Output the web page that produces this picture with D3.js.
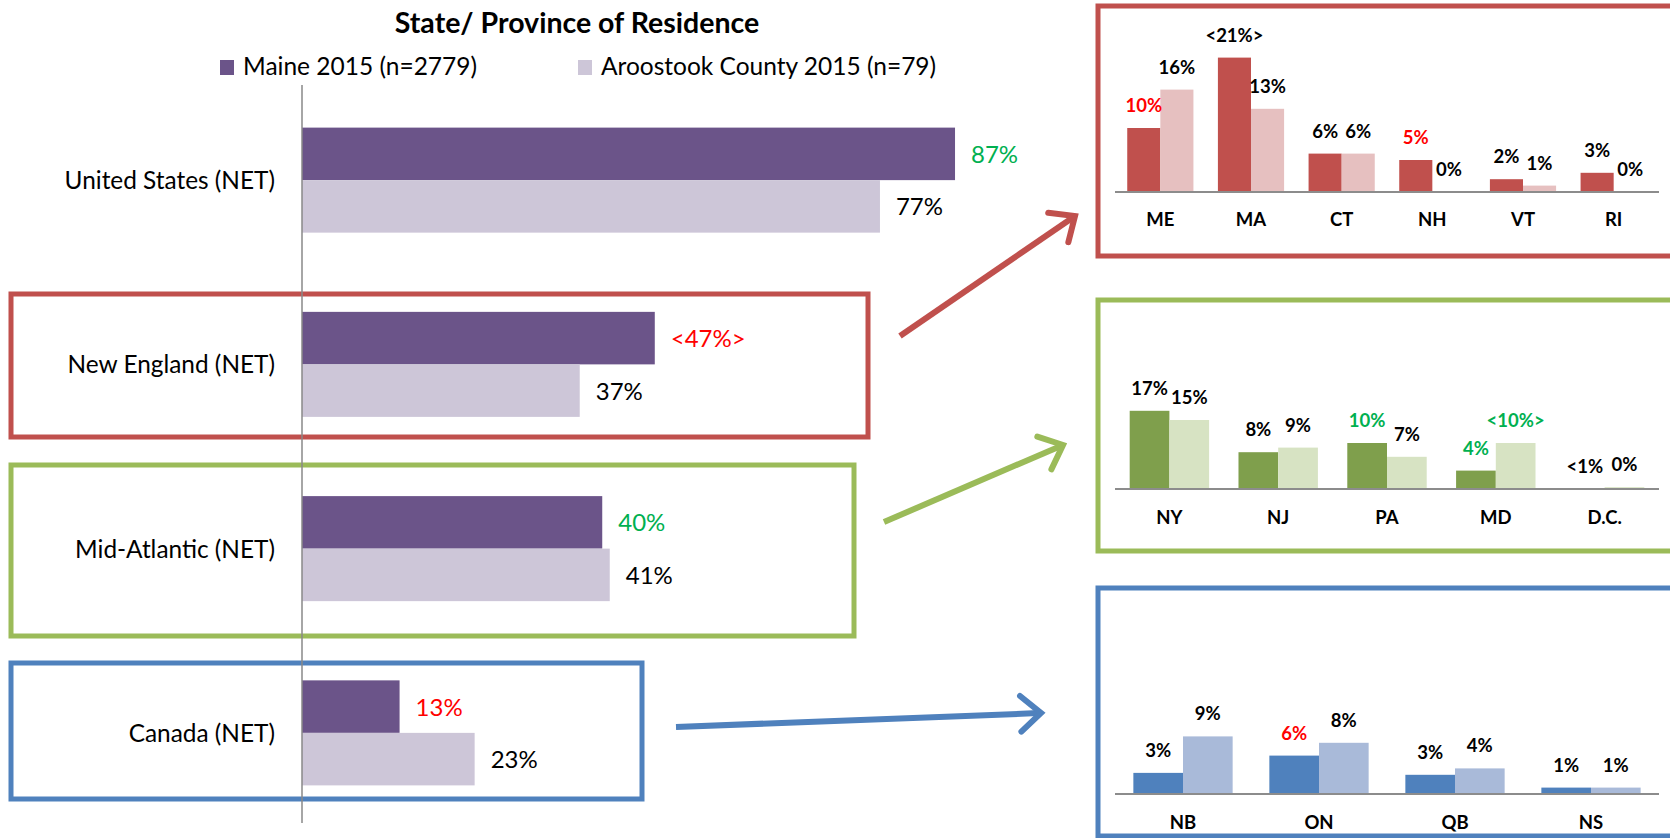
<!DOCTYPE html>
<html>
<head>
<meta charset="utf-8">
<script src="https://cdn.jsdelivr.net/npm/d3@7"></script>
<style>
  html, body { margin: 0; padding: 0; background: #fff; }
  svg { display: block; }
  text { font-family: Lato, "Open Sans", "Liberation Sans", sans-serif; }
</style>
</head>
<body>
<svg id="chart" width="1670" height="838"></svg>
<script>
// ---------------- DATA ----------------
const seriesNames = ["Maine 2015 (n=2779)", "Aroostook County 2015 (n=79)"];

const mainCats = ["United States (NET)", "New England (NET)", "Mid-Atlantic (NET)", "Canada (NET)"];
const mainMaine = [87, 47, 40, 13];
const mainAroo = [77, 37, 41, 23];
const mainMaineLabels = ["87%", "<47%>", "40%", "13%"];
const mainArooLabels = ["77%", "37%", "41%", "23%"];
const mainMaineSig = ["up", "down", "up", "down"];
const mainArooSig = ["", "", "", ""];

const neCats = ["ME", "MA", "CT", "NH", "VT", "RI"];
const neMaine = [10, 21, 6, 5, 2, 3];
const neAroo = [16, 13, 6, 0, 1, 0];
const neMaineLabels = ["10%", "<21%>", "6%", "5%", "2%", "3%"];
const neArooLabels = ["16%", "13%", "6%", "0%", "1%", "0%"];
const neMaineSig = ["down", "", "", "down", "", ""];
const neArooSig = ["", "", "", "", "", ""];

const maCats = ["NY", "NJ", "PA", "MD", "D.C."];
const maMaine = [17, 8, 10, 4, 0];
const maAroo = [15, 9, 7, 10, 0.4];
const maMaineLabels = ["17%", "8%", "10%", "4%", "<1%"];
const maArooLabels = ["15%", "9%", "7%", "<10%>", "0%"];
const maMaineSig = ["", "", "up", "up", ""];
const maArooSig = ["", "", "", "up", ""];

const caCats = ["NB", "ON", "QB", "NS"];
const caMaine = [3.3, 6, 3, 1];
const caAroo = [9, 8, 4, 1];
const caMaineLabels = ["3%", "6%", "3%", "1%"];
const caArooLabels = ["9%", "8%", "4%", "1%"];
const caMaineSig = ["", "down", "", ""];
const caArooSig = ["", "", "", ""];

// ---------------- STYLE ----------------
const sigColor = { up: "#00B050", down: "#FF0000", "": "#000000" };
const purple = "#6B5489", lilac = "#CDC6D8";
const red = "#C0504D", redLight = "#E6C0C0";
const green = "#9BBB59", greenDark = "#7F9F4C", greenLight = "#D7E3C3";
const blue = "#4F81BD", blueLight = "#A9BAD9";
const axisGray = "#8C8C8C";

const svg = d3.select("#chart");

// ---------------- TITLE & LEGEND ----------------
svg.append("text").attr("x", 577).attr("y", 33).attr("text-anchor", "middle")
  .attr("font-size", 28.5).attr("font-weight", "bold").attr("fill", "#000")
  .text("State/ Province of Residence");

const legendItems = [
  { name: seriesNames[0], color: purple, x: 220 },
  { name: seriesNames[1], color: lilac, x: 578 }
];
const lg = svg.append("g").selectAll("g").data(legendItems).join("g")
  .attr("transform", d => `translate(${d.x},60)`);
lg.append("rect").attr("width", 14).attr("height", 15).attr("fill", d => d.color);
lg.append("text").attr("x", 23).attr("y", 15).attr("font-size", 24.5).attr("fill", "#000")
  .text(d => d.name);

// ---------------- MAIN BAR CHART ----------------
const x = d3.scaleLinear().domain([0, 100]).range([302, 302 + 750.6]);
const y = d3.scaleBand().domain(mainCats).range([88, 825]).paddingInner(0.43).paddingOuter(0.215);
const ySub = d3.scaleBand().domain(["maine", "aroo"]).range([0, y.bandwidth()]);

const mainRows = mainCats.map((c, i) => ({
  cat: c,
  bars: [
    { key: "maine", v: mainMaine[i], label: mainMaineLabels[i], sig: mainMaineSig[i], color: purple },
    { key: "aroo", v: mainAroo[i], label: mainArooLabels[i], sig: mainArooSig[i], color: lilac }
  ]
}));

// annotation boxes (drawn first so bars overlay)
const annBoxes = [
  { x: 11, y: 294, w: 857, h: 143, color: red },
  { x: 11, y: 465, w: 843, h: 171, color: green },
  { x: 11, y: 663, w: 631, h: 136, color: blue }
];
svg.append("g").selectAll("rect").data(annBoxes).join("rect")
  .attr("x", d => d.x).attr("y", d => d.y).attr("width", d => d.w).attr("height", d => d.h)
  .attr("fill", "none").attr("stroke", d => d.color).attr("stroke-width", 5);

const gMain = svg.append("g");
const rowG = gMain.selectAll("g.row").data(mainRows).join("g").attr("class", "row")
  .attr("transform", d => `translate(0,${y(d.cat)})`);
rowG.selectAll("rect").data(d => d.bars).join("rect")
  .attr("x", x(0)).attr("y", d => ySub(d.key))
  .attr("width", d => x(d.v) - x(0)).attr("height", ySub.bandwidth())
  .attr("fill", d => d.color);
rowG.selectAll("text.val").data(d => d.bars).join("text").attr("class", "val")
  .attr("x", d => x(d.v) + 16).attr("y", d => ySub(d.key) + ySub.bandwidth() / 2 + 9)
  .attr("font-size", 24).attr("fill", d => sigColor[d.sig]).text(d => d.label);
rowG.append("text").attr("x", 275).attr("y", y.bandwidth() / 2 + 9)
  .attr("text-anchor", "end").attr("font-size", 24.4).attr("fill", "#000").text(d => d.cat);

// vertical axis line
gMain.append("line").attr("x1", x(0)).attr("x2", x(0)).attr("y1", 85).attr("y2", 823)
  .attr("stroke", "#888").attr("stroke-width", 1.5);

// ---------------- ARROWS ----------------
const arrows = [
  { x1: 900, y1: 336, x2: 1075, y2: 216, color: red },
  { x1: 884, y1: 522, x2: 1063, y2: 445, color: green },
  { x1: 676, y1: 727, x2: 1041, y2: 713, color: blue }
];
const gArr = svg.append("g");
arrows.forEach(a => {
  const ang = Math.atan2(a.y2 - a.y1, a.x2 - a.x1);
  const L = 27, spread = 0.72;
  gArr.append("line").attr("x1", a.x1).attr("y1", a.y1)
    .attr("x2", a.x2 - 3 * Math.cos(ang)).attr("y2", a.y2 - 3 * Math.sin(ang))
    .attr("stroke", a.color).attr("stroke-width", 6);
  const p1 = [a.x2 - L * Math.cos(ang - spread), a.y2 - L * Math.sin(ang - spread)];
  const p2 = [a.x2 - L * Math.cos(ang + spread), a.y2 - L * Math.sin(ang + spread)];
  gArr.append("path").attr("d", `M${p1[0]},${p1[1]}L${a.x2},${a.y2}L${p2[0]},${p2[1]}`)
    .attr("fill", "none").attr("stroke", a.color).attr("stroke-width", 6)
    .attr("stroke-linecap", "round").attr("stroke-linejoin", "miter");
});

// ---------------- DETAIL PANELS ----------------
function panel(cfg) {
  const g = svg.append("g");
  g.append("rect").attr("x", cfg.box[0]).attr("y", cfg.box[1])
    .attr("width", cfg.box[2]).attr("height", cfg.box[3])
    .attr("fill", "none").attr("stroke", cfg.border).attr("stroke-width", 5);

  const xb = d3.scaleBand().domain(cfg.cats).range([1115, 1659]).paddingInner(0.27).paddingOuter(0.135);
  const xs = d3.scaleBand().domain(["maine", "aroo"]).range([0, xb.bandwidth()]);
  const yl = d3.scaleLinear().domain([0, 25]).range([cfg.base, cfg.base - cfg.pxPer * 25]);

  const rows = cfg.cats.map((c, i) => ({
    cat: c,
    bars: [
      { key: "maine", v: cfg.maine[i], label: cfg.maineLabels[i], sig: cfg.maineSig[i], color: cfg.c1 },
      { key: "aroo", v: cfg.aroo[i], label: cfg.arooLabels[i], sig: cfg.arooSig[i], color: cfg.c2 }
    ]
  }));
  const cg = g.selectAll("g.cat").data(rows).join("g").attr("class", "cat")
    .attr("transform", d => `translate(${xb(d.cat)},0)`);
  cg.selectAll("rect").data(d => d.bars).join("rect")
    .attr("x", d => xs(d.key)).attr("width", xs.bandwidth())
    .attr("y", d => yl(d.v)).attr("height", d => yl(0) - yl(d.v))
    .attr("fill", d => d.color);
  cg.selectAll("text.val").data(d => d.bars).join("text").attr("class", "val")
    .attr("x", d => xs(d.key) + xs.bandwidth() / 2).attr("y", d => yl(d.v) - 16)
    .attr("text-anchor", "middle").attr("font-size", 18.5).attr("font-weight", "bold")
    .attr("fill", d => sigColor[d.sig]).text(d => d.label);

  g.append("line").attr("x1", 1115).attr("x2", 1659).attr("y1", cfg.base).attr("y2", cfg.base)
    .attr("stroke", axisGray).attr("stroke-width", 2);

  const xAxis = d3.axisBottom(xb).tickSize(0).tickPadding(0);
  const ax = g.append("g").attr("transform", `translate(0,${cfg.base})`).call(xAxis);
  ax.select(".domain").remove();
  ax.selectAll("text").attr("dy", 0).attr("y", cfg.labelDy)
    .attr("font-size", 18.5).attr("font-weight", "bold").attr("fill", "#000")
    .attr("font-family", "Lato, 'Open Sans', sans-serif");
}

panel({ box: [1098, 6, 640, 250], border: red, base: 192, pxPer: 6.4, labelDy: 34,
  cats: neCats, maine: neMaine, aroo: neAroo, maineLabels: neMaineLabels, arooLabels: neArooLabels,
  maineSig: neMaineSig, arooSig: neArooSig, c1: red, c2: redLight });

panel({ box: [1098, 300, 640, 251], border: green, base: 489, pxPer: 4.6, labelDy: 35,
  cats: maCats, maine: maMaine, aroo: maAroo, maineLabels: maMaineLabels, arooLabels: maArooLabels,
  maineSig: maMaineSig, arooSig: maArooSig, c1: greenDark, c2: greenLight });

panel({ box: [1098, 588, 640, 248], border: blue, base: 794, pxPer: 6.4, labelDy: 35,
  cats: caCats, maine: caMaine, aroo: caAroo, maineLabels: caMaineLabels, arooLabels: caArooLabels,
  maineSig: caMaineSig, arooSig: caArooSig, c1: blue, c2: blueLight });
</script>
</body>
</html>
